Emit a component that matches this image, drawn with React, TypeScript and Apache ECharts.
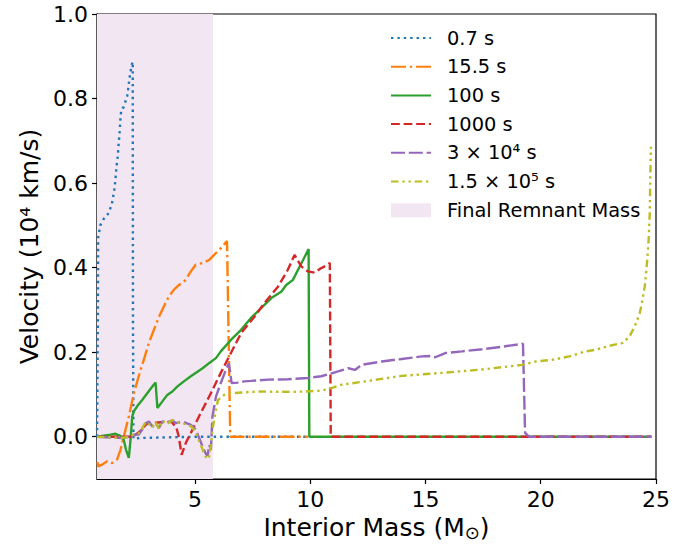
import React, { useEffect, useRef } from 'react';
import * as echarts from 'echarts';

// ---- axis ticks / ranges ----
const xTicks = [5, 10, 15, 20, 25];
const yTicks = [0, 0.2, 0.4, 0.6, 0.8, 1.0];
const remnantRange = [0.75, 5.78];

// ---- 0.7 s ----
const mass07 = [0.75, 0.78, 0.79, 0.80, 0.89, 1.04, 1.26, 1.40, 1.50, 1.55, 1.59, 1.65, 1.69, 1.74, 1.77, 1.81, 1.85, 1.91, 2.06, 2.10, 2.16, 2.21, 2.245, 2.30, 2.31, 2.33, 2.6, 5.0, 9.9];
const vel07 = [0, 0, 0.30, 0.47, 0.50, 0.515, 0.529, 0.552, 0.584, 0.608, 0.636, 0.663, 0.694, 0.726, 0.757, 0.775, 0.777, 0.780, 0.806, 0.822, 0.848, 0.864, 0.878, 0.887, 0.30, -0.005, -0.003, 0, 0];

// ---- 15.5 s ----
const mass155 = [0.77, 0.80, 0.97, 1.19, 1.40, 1.62, 1.77, 1.91, 2.13, 2.35, 2.56, 2.78, 3.00, 3.22, 3.44, 3.65, 3.87, 4.09, 4.31, 4.46, 4.60, 4.82, 5.03, 5.33, 5.61, 5.83, 6.12, 6.39, 6.44, 6.53, 9.9];
const vel155 = [-0.06, -0.070, -0.066, -0.058, -0.062, -0.054, -0.031, 0.0, 0.048, 0.103, 0.143, 0.182, 0.222, 0.253, 0.284, 0.308, 0.332, 0.348, 0.359, 0.365, 0.371, 0.391, 0.407, 0.411, 0.418, 0.430, 0.446, 0.463, 0.30, 0, 0];

// ---- 100 s ----
const mass100 = [0.75, 1.33, 1.55, 1.77, 1.91, 2.01, 2.13, 2.20, 2.28, 2.35, 2.49, 2.71, 2.93, 3.15, 3.29, 3.37, 3.58, 3.80, 4.02, 4.24, 4.52, 4.82, 5.03, 5.33, 5.61, 5.91, 6.12, 6.56, 7.00, 7.43, 7.87, 8.31, 8.74, 8.96, 9.25, 9.47, 9.69, 9.93, 9.96, 24.8];
const vel100 = [0, 0.005, 0.007, 0.002, -0.007, -0.031, -0.050, -0.01, 0.048, 0.060, 0.072, 0.087, 0.103, 0.119, 0.128, 0.068, 0.083, 0.099, 0.107, 0.119, 0.131, 0.143, 0.151, 0.162, 0.174, 0.186, 0.202, 0.229, 0.253, 0.281, 0.304, 0.328, 0.343, 0.359, 0.371, 0.395, 0.418, 0.444, 0, 0];

// ---- 1000 s ----
const mass1000 = [0.75, 2.3, 2.6, 2.9, 3.3, 3.7, 4.0, 4.2, 4.3, 4.42, 4.6, 4.82, 5.25, 5.69, 6.12, 6.56, 7.00, 7.58, 8.01, 8.60, 9.03, 9.32, 9.61, 9.90, 10.19, 10.48, 10.70, 10.85, 10.89, 24.8];
const vel1000 = [0, 0, 0.012, 0.03, 0.033, 0.035, 0.035, 0.02, 0.0, -0.043, -0.015, 0.009, 0.056, 0.103, 0.151, 0.198, 0.245, 0.284, 0.316, 0.355, 0.395, 0.430, 0.403, 0.391, 0.388, 0.399, 0.405, 0.411, 0, 0];

// ---- 3e4 s ----
const mass3e4 = [0.75, 1.84, 2.13, 2.35, 2.56, 2.71, 2.86, 3.00, 3.15, 3.29, 3.44, 3.58, 3.80, 4.02, 4.16, 4.38, 4.60, 4.82, 5.03, 5.18, 5.33, 5.47, 5.55, 5.62, 5.69, 5.76, 5.91, 6.12, 6.34, 6.47, 6.59, 6.85, 7.14, 7.43, 8.16, 9.03, 9.90, 10.48, 11.06, 11.65, 11.94, 12.23, 13.10, 13.97, 14.84, 15.14, 15.42, 15.86, 16.59, 17.46, 18.33, 19.23, 19.32, 19.49, 24.8];
const vel3e4 = [0, -0.003, 0, 0.005, 0.005, 0.017, 0.032, 0.036, 0.024, 0.032, 0.021, 0.036, 0.033, 0.039, 0.032, 0.035, 0.033, 0.028, 0.017, -0.003, -0.023, -0.040, -0.045, -0.02, -0.03, 0.048, 0.095, 0.127, 0.158, 0.174, 0.127, 0.128, 0.131, 0.132, 0.135, 0.136, 0.139, 0.143, 0.152, 0.162, 0.158, 0.170, 0.178, 0.184, 0.190, 0.191, 0.188, 0.198, 0.202, 0.207, 0.213, 0.220, 0.009, 0, 0];

// ---- 1.5e5 s ----
const mass15e5 = [0.75, 1.84, 2.13, 2.35, 2.56, 2.71, 2.86, 3.00, 3.15, 3.29, 3.44, 3.58, 3.80, 4.02, 4.16, 4.38, 4.60, 4.82, 5.03, 5.18, 5.33, 5.47, 5.56, 5.62, 5.69, 5.76, 5.91, 6.00, 6.27, 6.56, 7.72, 9.18, 9.76, 10.48, 10.92, 11.36, 12.52, 13.97, 15.71, 17.02, 17.60, 19.20, 19.78, 20.50, 21.24, 21.96, 22.40, 22.98, 23.56, 23.85, 24.00, 24.14, 24.29, 24.36, 24.51, 24.61, 24.68, 24.73, 24.75, 24.78];
const vel15e5 = [0, -0.003, 0, 0.005, 0.008, 0.02, 0.035, 0.03, 0.022, 0.035, 0.018, 0.038, 0.03, 0.04, 0.035, 0.032, 0.03, 0.025, 0.012, -0.01, -0.03, -0.048, -0.053, -0.045, -0.02, 0.017, 0.064, 0.087, 0.099, 0.103, 0.107, 0.106, 0.107, 0.109, 0.115, 0.123, 0.132, 0.144, 0.151, 0.157, 0.160, 0.170, 0.178, 0.182, 0.190, 0.202, 0.206, 0.215, 0.222, 0.237, 0.253, 0.269, 0.292, 0.308, 0.355, 0.411, 0.466, 0.529, 0.608, 0.686];

const seriesNames = ['0.7 s', '15.5 s', '100 s', '1000 s', '3 × 10⁴ s', '1.5 × 10⁵ s'];
const remnantName = 'Final Remnant Mass';

const FONT = 'DejaVu Sans';
const LW = 2.4;

const zip = (xs: number[], ys: number[]) => xs.map((x, i) => [x, ys[i]]);

export default function App() {
  const ref = useRef<HTMLDivElement>(null);
  useEffect(() => {
    if (!ref.current) return;
    const chart = echarts.init(ref.current, undefined, { renderer: 'svg' });
    const styles = [
      { color: '#1f77b4', type: [2.4, 4] },
      { color: '#ff7f0e', type: [15, 3.8, 2.4, 3.8] },
      { color: '#2ca02c', type: 'solid' },
      { color: '#d62728', type: [8.8, 3.8] },
      { color: '#9467bd', type: [14, 3.8] },
      { color: '#bcbd22', type: [7.5, 3.8, 2.4, 3.8, 2.4, 3.8] },
    ];
    const datas = [
      zip(mass07, vel07),
      zip(mass155, vel155),
      zip(mass100, vel100),
      zip(mass1000, vel1000),
      zip(mass3e4, vel3e4),
      zip(mass15e5, vel15e5),
    ];
    const lineSeries = seriesNames.map((name, i) => ({
      name,
      type: 'line',
      data: datas[i],
      showSymbol: false,
      symbol: 'none',
      clip: true,
      lineStyle: { color: styles[i].color, width: LW, type: styles[i].type as any, cap: 'butt' },
      itemStyle: { color: styles[i].color },
    }));
    const option: any = {
      animation: false,
      backgroundColor: '#ffffff',
      grid: { left: 97, right: 36, top: 14, bottom: 69, show: true, borderColor: '#000', borderWidth: 1.2 },
      xAxis: {
        type: 'value',
        min: remnantRange[0],
        max: 25,
        name: 'Interior Mass (M{sub|⊙})',
        nameLocation: 'middle',
        nameGap: 30,
        nameTextStyle: {
          fontFamily: FONT, fontSize: 25, color: '#000',
          rich: { sub: { fontFamily: FONT, fontSize: 18, color: '#000', padding: [10, 0, 0, 0] } },
        },
        axisLine: { show: true, onZero: false, lineStyle: { color: '#000', width: 1.2 } },
        axisTick: { show: true, inside: false, length: 5, customValues: xTicks, lineStyle: { color: '#000', width: 1.2 } },
        axisLabel: { customValues: xTicks, fontFamily: FONT, fontSize: 22, color: '#000', margin: 9 },
        splitLine: { show: false },
      },
      yAxis: {
        type: 'value',
        min: -0.1,
        max: 1.0,
        name: 'Velocity (10⁴ km/s)',
        nameLocation: 'middle',
        nameGap: 52,
        nameTextStyle: { fontFamily: FONT, fontSize: 25, color: '#000' },
        axisLine: { show: true, onZero: false, lineStyle: { color: '#000', width: 1.2 } },
        axisTick: { show: true, inside: false, length: 5, customValues: yTicks, lineStyle: { color: '#000', width: 1.2 } },
        axisLabel: {
          customValues: yTicks, fontFamily: FONT, fontSize: 22, color: '#000', margin: 9,
          formatter: (v: number) => v.toFixed(1),
        },
        splitLine: { show: false },
      },
      legend: {
        orient: 'vertical',
        left: 390,
        top: 28,
        padding: 0,
        itemWidth: 40,
        itemHeight: 14,
        itemGap: 8.7,
        textStyle: { fontFamily: FONT, fontSize: 19.4, color: '#000', lineHeight: 20, padding: [0, 0, 0, 11] },
        data: [
          ...seriesNames.map((n) => ({ name: n, itemStyle: { opacity: 0 } })),
          { name: remnantName, icon: 'rect', itemStyle: { color: '#f2e6f2', borderWidth: 0, opacity: 1 } },
        ],
      },
      series: [
        {
          name: remnantName,
          type: 'line',
          data: [],
          showSymbol: false,
          symbol: 'none',
          itemStyle: { color: '#f2e6f2' },
          lineStyle: { color: '#f2e6f2' },
          markArea: {
            silent: true,
            itemStyle: { color: '#f2e6f2' },
            data: [[{ xAxis: remnantRange[0], yAxis: -0.1 }, { xAxis: remnantRange[1], yAxis: 1.0 }]],
          },
        },
        ...lineSeries,
      ],
    };
    chart.setOption(option);
    return () => chart.dispose();
  }, []);
  return (
    <div
      ref={ref}
      style={{ position: 'fixed', left: 0, top: 0, width: 692, height: 548, background: '#fff' }}
    />
  );
}
